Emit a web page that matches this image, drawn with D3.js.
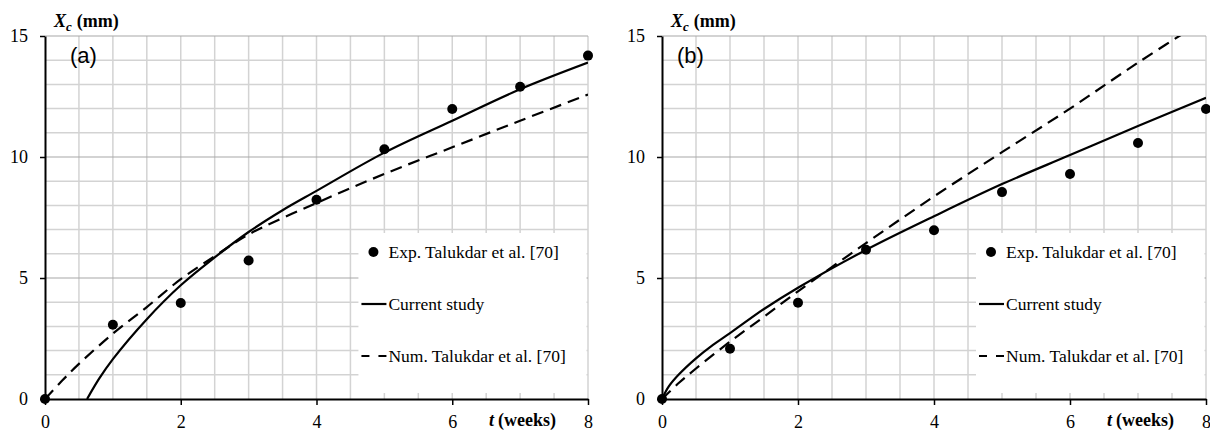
<!DOCTYPE html>
<html>
<head>
<meta charset="utf-8">
<script src="https://cdn.jsdelivr.net/npm/d3@7"></script>
<style>
  body { margin: 0; background: #fff; }
</style>
</head>
<body>
<div id="chart"></div>
<script>
// Time (weeks) of the experimental points
var weeks = [0, 1, 2, 3, 4, 5, 6, 7, 8];

// Exp. Talukdar et al. [70]
var expA = [0, 3.07, 3.97, 5.72, 8.23, 10.32, 11.98, 12.9, 14.19];
var expB = [0, 2.08, 3.98, 6.17, 6.97, 8.55, 9.3, 10.58, 11.98];

// Current study
var currentTimeA = [0.62, 0.8, 1, 1.5, 2, 2.5, 3, 3.5, 4, 5, 6, 7, 8];
var currentA = [0, 0.85, 1.65, 3.3, 4.7, 5.85, 6.9, 7.8, 8.6, 10.18, 11.5, 12.8, 13.9];
var currentTimeB = [0, 0.1, 0.25, 0.5, 0.75, 1, 1.5, 2, 3, 4, 5, 6, 7, 8];
var currentB = [0, 0.52, 1.02, 1.68, 2.24, 2.72, 3.72, 4.6, 6.16, 7.55, 8.88, 10.08, 11.28, 12.45];

// Num. Talukdar et al. [70]
var numTimeA = [0, 0.25, 0.5, 1, 1.5, 2, 2.5, 3, 4, 5, 6, 7, 8];
var numA = [0, 0.75, 1.45, 2.7, 3.8, 4.95, 5.9, 6.8, 8.1, 9.3, 10.4, 11.5, 12.58];
var numTimeB = [0, 0.25, 0.5, 1, 1.5, 2, 3, 4, 5, 6, 7, 8];
var numB = [0, 0.67, 1.26, 2.37, 3.4, 4.45, 6.44, 8.37, 10.2, 12.0, 13.9, 15.7];

// Tick labels and legend
var xTicks = [0, 2, 4, 6, 8];
var yTicks = [0, 5, 10, 15];
var legendLabels = ["Exp. Talukdar et al. [70]", "Current study", "Num. Talukdar et al. [70]"];

var svgWidth = 1210;
var svgHeight = 431;
var serif = "'Liberation Serif', 'DejaVu Serif', 'Times New Roman', serif";

var svg = d3.select("#chart")
  .append("svg")
  .attr("width", svgWidth)
  .attr("height", svgHeight)
  .style("font-family", serif);

// the two panels side by side
var panels = [
  { tag: "(a)", left: 45, right: 588, tagX: 70, exp: expA,
    curT: currentTimeA, cur: currentA, numT: numTimeA, num: numA },
  { tag: "(b)", left: 662, right: 1206, tagX: 677, exp: expB,
    curT: currentTimeB, cur: currentB, numT: numTimeB, num: numB }
];

var plotTop = 36, plotBottom = 399;

function zip(xs, ys) {
  return xs.map(function (x, i) { return [x, ys[i]]; });
}

panels.forEach(function (p, pi) {
  var xScale = d3.scaleLinear().domain([0, 8]).range([p.left, p.right]);
  var yScale = d3.scaleLinear().domain([0, 15]).range([plotBottom, plotTop]);

  var g = svg.append("g");

  // vertical gridlines every half week
  g.selectAll(".vgrid")
    .data(d3.range(0.5, 8.01, 0.5))
    .enter()
    .append("line")
    .attr("x1", d => xScale(d))
    .attr("x2", d => xScale(d))
    .attr("y1", yScale(15))
    .attr("y2", yScale(0))
    .attr("stroke", "#d3d3d3")
    .attr("stroke-width", 1.5);

  // horizontal gridlines every 1 mm, darker at major ticks
  g.selectAll(".hgrid")
    .data(d3.range(1, 15.01, 1))
    .enter()
    .append("line")
    .attr("x1", xScale(0))
    .attr("x2", xScale(8))
    .attr("y1", d => yScale(d))
    .attr("y2", d => yScale(d))
    .attr("stroke", d => d % 5 === 0 ? "#a8a8a8" : "#d3d3d3")
    .attr("stroke-width", d => d % 5 === 0 ? 1.2 : 1.5);

  // legend box (white, hides the grid)
  var boxX = xScale(4.5) + 8;
  g.append("rect")
    .attr("x", boxX)
    .attr("y", 233)
    .attr("width", xScale(8) - 1.5 - boxX)
    .attr("height", 160)
    .attr("fill", "#fff");

  // clip curves to the plot area
  svg.append("clipPath")
    .attr("id", "clip" + pi)
    .append("rect")
    .attr("x", xScale(0))
    .attr("y", yScale(15))
    .attr("width", xScale(8) - xScale(0))
    .attr("height", yScale(0) - yScale(15));

  var line = d3.line()
    .x(d => xScale(d[0]))
    .y(d => yScale(d[1]))
    .curve(d3.curveCatmullRom.alpha(0.5));

  g.append("path")
    .datum(zip(p.numT, p.num))
    .attr("clip-path", "url(#clip" + pi + ")")
    .attr("d", line)
    .attr("fill", "none")
    .attr("stroke", "#000")
    .attr("stroke-width", 2.2)
    .attr("stroke-dasharray", "12,7");

  g.append("path")
    .datum(zip(p.curT, p.cur))
    .attr("clip-path", "url(#clip" + pi + ")")
    .attr("d", line)
    .attr("fill", "none")
    .attr("stroke", "#000")
    .attr("stroke-width", 2.2);

  // axes
  var bottomAxis = d3.axisBottom(xScale)
    .tickValues(xTicks)
    .tickSize(6)
    .tickSizeOuter(0)
    .tickPadding(10);

  var leftAxis = d3.axisLeft(yScale)
    .tickValues(yTicks)
    .tickSize(5)
    .tickSizeOuter(0)
    .tickPadding(12);

  var xg = g.append("g")
    .attr("transform", `translate(0, ${plotBottom})`)
    .call(bottomAxis);

  var yg = g.append("g")
    .attr("transform", `translate(${xScale(0)}, 0)`)
    .call(leftAxis);

  [xg, yg].forEach(function (ax) {
    ax.attr("font-family", null).attr("font-size", null);
    ax.select(".domain").attr("stroke", "#000").attr("stroke-width", 2);
    ax.selectAll(".tick line").attr("stroke", "#000").attr("stroke-width", 1.5);
    ax.selectAll(".tick text")
      .style("font-family", serif)
      .style("font-size", "18px")
      .attr("fill", "#000");
  });

  // experimental points
  g.selectAll(".dot")
    .data(zip(weeks, p.exp))
    .enter()
    .append("circle")
    .attr("cx", d => xScale(d[0]))
    .attr("cy", d => yScale(d[1]))
    .attr("r", 5)
    .attr("fill", "#000");

  // legend entries
  var ly = [252, 304, 356];
  g.append("circle")
    .attr("cx", boxX + 15)
    .attr("cy", ly[0])
    .attr("r", 5)
    .attr("fill", "#000");
  g.append("line")
    .attr("x1", boxX + 3).attr("x2", boxX + 28)
    .attr("y1", ly[1]).attr("y2", ly[1])
    .attr("stroke", "#000").attr("stroke-width", 2.2);
  g.append("line")
    .attr("x1", boxX + 3).attr("x2", boxX + 28)
    .attr("y1", ly[2]).attr("y2", ly[2])
    .attr("stroke", "#000").attr("stroke-width", 2.2)
    .attr("stroke-dasharray", "8,9");
  g.selectAll(".legtext")
    .data(legendLabels)
    .enter()
    .append("text")
    .attr("x", boxX + 30)
    .attr("y", (d, i) => ly[i])
    .attr("dy", "0.35em")
    .style("font-family", serif)
    .style("font-size", "17.5px")
    .text(d => d);

  // y axis title: X_c (mm)
  var yt = g.append("text")
    .attr("x", xScale(0) + 9)
    .attr("y", 27)
    .style("font-family", serif)
    .style("font-size", "18px")
    .style("font-weight", "bold");
  yt.append("tspan").style("font-style", "italic").text("X");
  yt.append("tspan").style("font-style", "italic").style("font-size", "13px").attr("dy", 4).text("c");
  yt.append("tspan").attr("dy", -4).attr("dx", 5).text("(mm)");

  // x axis title: t (weeks)
  var xt = g.append("text")
    .attr("x", xScale(8) - 99)
    .attr("y", 426)
    .style("font-family", serif)
    .style("font-size", "18px")
    .style("font-weight", "bold");
  xt.append("tspan").style("font-style", "italic").text("t");
  xt.append("tspan").attr("dx", 4).text("(weeks)");

  // panel tag
  g.append("text")
    .attr("x", p.tagX)
    .attr("y", 63)
    .style("font-family", "'Liberation Sans', Arial, sans-serif")
    .style("font-size", "22px")
    .text(p.tag);
});
</script>
</body>
</html>
